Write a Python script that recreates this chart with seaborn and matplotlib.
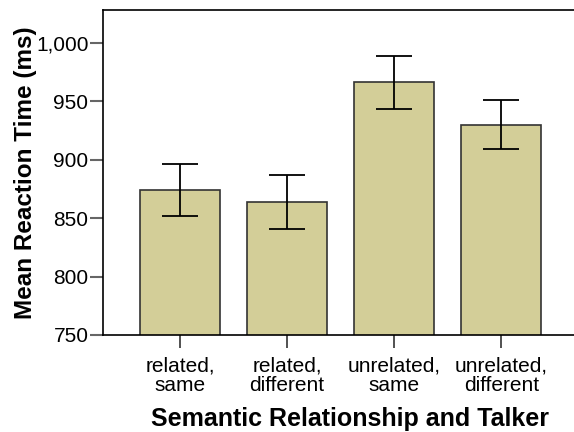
import numpy as np
import matplotlib
matplotlib.use('Agg')
import matplotlib.pyplot as plt
import matplotlib.ticker as mticker
import pandas as pd
import seaborn as sns

# values
conditions = ['related,\nsame', 'related,\ndifferent', 'unrelated,\nsame', 'unrelated,\ndifferent']
mean_rt = [874, 864, 966, 930]
err_low = [852, 841, 943, 909]
err_high = [896, 887, 989, 951]

df = pd.DataFrame({'condition': conditions, 'rt': mean_rt})

sns.set_style('white', rc={'text.color': 'black', 'axes.labelcolor': 'black',
                           'xtick.color': 'black', 'ytick.color': 'black'})
plt.rcParams['font.family'] = ['Liberation Sans', 'DejaVu Sans']

fig = plt.figure(figsize=(5.74, 4.32), dpi=100)
ax = fig.add_axes([103 / 574, 97 / 432, 1 - 103 / 574, 325 / 432])

sns.barplot(data=df, x='condition', y='rt', color='#D3CE98', saturation=1,
            edgecolor='#333333', linewidth=1.2, width=0.75, errorbar=None, ax=ax)

yerr = np.array([np.array(mean_rt) - np.array(err_low),
                 np.array(err_high) - np.array(mean_rt)])
ax.errorbar(np.arange(len(conditions)), mean_rt, yerr=yerr, fmt='none',
            ecolor='black', elinewidth=1.3, capsize=13, capthick=1.3)

ax.set_ylim(750, 1028)
ax.set_xlim(-0.72, 3.68)
ax.set_yticks([750, 800, 850, 900, 950, 1000])
ax.yaxis.set_major_formatter(mticker.FuncFormatter(lambda v, p: f'{int(v):,}'))

for s in ['left', 'bottom', 'top']:
    ax.spines[s].set_color('black')
    ax.spines[s].set_linewidth(1.2)
ax.spines['right'].set_visible(False)

ax.tick_params(axis='y', direction='out', length=9.5, width=1.5, color='#666666',
               labelcolor='black', labelsize=15, pad=1, left=True)
ax.tick_params(axis='x', direction='out', length=9.5, width=1.2, color='#333333',
               labelcolor='black', labelsize=15, pad=6, bottom=True)
for t in ax.get_xticklabels():
    t.set_linespacing(1.0)

ax.set_xlabel('Semantic Relationship and Talker', fontsize=18, fontweight='bold')
ax.set_ylabel('Mean Reaction Time (ms)', fontsize=17.5, fontweight='bold')
ax.xaxis.set_label_coords(0.525, -0.222)
ax.yaxis.set_label_coords(-0.14, 0.5)

fig.savefig('out.png', dpi=100)
